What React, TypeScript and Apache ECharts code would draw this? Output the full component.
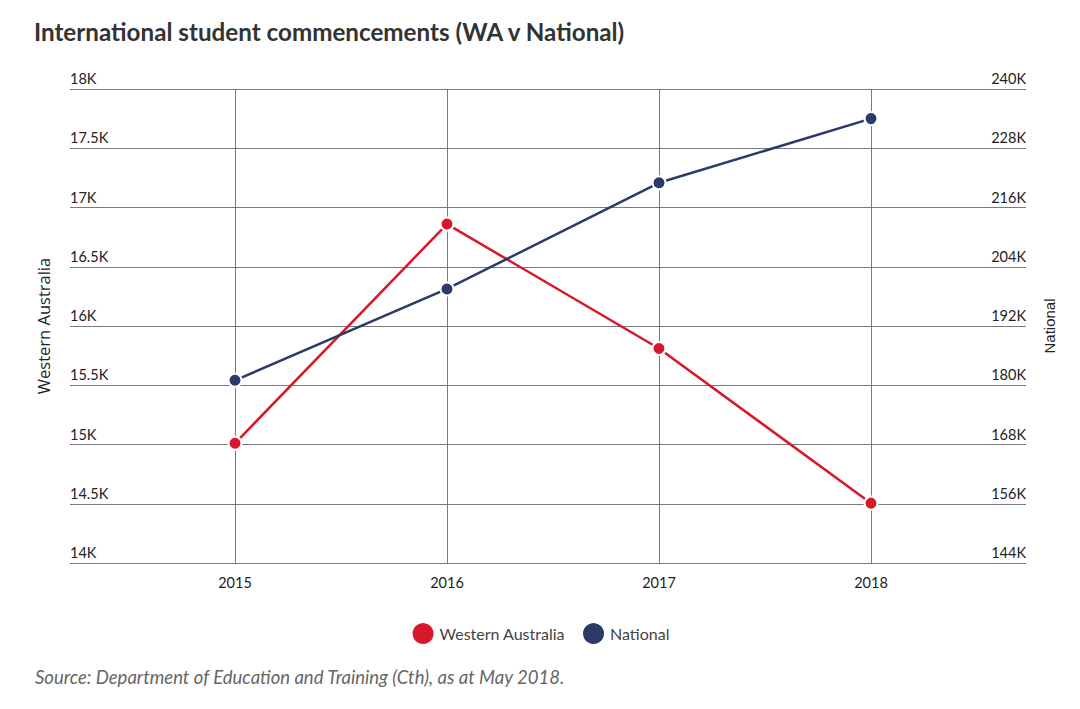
import React, { useEffect, useRef } from "react";
import * as echarts from "echarts";

const years = ["2015", "2016", "2017", "2018"];
const waValues = [15010, 16860, 15810, 14505];
const nationalValues = [181000, 199500, 221000, 234000];
const waTicks = { min: 14000, max: 18000, interval: 500 };
const natTicks = { min: 144000, max: 240000, interval: 12000 };

const RED = "#d7182a";
const NAVY = "#2b3a67";
const FONT = "Lato, 'Open Sans', sans-serif";

const kFmt = (v: number) => `${v / 1000}K`;

export default function App() {
  const ref = useRef<HTMLDivElement>(null);
  useEffect(() => {
    if (!ref.current) return;
    const chart = echarts.init(ref.current, undefined, { renderer: "svg" });
    const top = 89;
    const bottom = 709 - 563;
    chart.setOption({
      animation: false,
      backgroundColor: "#ffffff",
      title: {
        text: "International student commencements (WA v National)",
        left: 29,
        top: 14,
        textStyle: { fontFamily: FONT, fontWeight: "bold", fontSize: 24.2, color: "#333" },
      },
      graphic: [
        {
          type: "text",
          left: 35,
          top: 667,
          style: {
            text: "Source: Department of Education and Training (Cth), as at May 2018.",
            font: `italic 18.5px ${FONT}`,
            fill: "#666",
          },
        },
      ],
      legend: {
        left: "center",
        top: 616,
        icon: "circle",
        itemWidth: 23,
        itemHeight: 23,
        itemGap: 16,
        textStyle: { fontFamily: FONT, fontSize: 16, color: "#444" },
        data: ["Western Australia", "National"],
      },
      grid: [
        { left: 70, right: 54, top, bottom, containLabel: false },
        { left: 235, right: 209, top, bottom, containLabel: false },
      ],
      xAxis: [
        { type: "category", gridIndex: 0, data: years, show: false },
        {
          type: "category",
          gridIndex: 1,
          data: years,
          boundaryGap: false,
          axisLine: { show: false },
          axisTick: { show: false },
          axisLabel: { color: "#222", fontFamily: FONT, fontSize: 14.5, margin: 12, interval: 0 },
          splitLine: { show: true, interval: 0, lineStyle: { color: "#7a7a7a", width: 1 } },
        },
      ],
      yAxis: [
        {
          type: "value",
          gridIndex: 0,
          position: "left",
          ...waTicks,
          name: "Western Australia",
          nameLocation: "middle",
          nameGap: 18,
          nameRotate: 90,
          nameTextStyle: { fontFamily: "'Open Sans', sans-serif", fontSize: 16.5, color: "#222" },
          axisLine: { show: false },
          axisTick: { show: false },
          axisLabel: {
            inside: true,
            margin: 0,
            verticalAlign: "bottom",
            padding: [0, 0, 3, 0],
            color: "#222",
            fontFamily: FONT,
            fontSize: 14.5,
            formatter: kFmt,
          },
          splitLine: { show: true, lineStyle: { color: "#7a7a7a", width: 1 } },
        },
        {
          type: "value",
          gridIndex: 0,
          position: "right",
          ...natTicks,
          name: "National",
          nameLocation: "middle",
          nameGap: 16,
          nameRotate: 90,
          nameTextStyle: { fontFamily: "'Liberation Sans', Arial, sans-serif", fontSize: 15, color: "#222" },
          axisLine: { show: false },
          axisTick: { show: false },
          axisLabel: {
            inside: true,
            margin: 0,
            verticalAlign: "bottom",
            padding: [0, 0, 3, 0],
            color: "#222",
            fontFamily: FONT,
            fontSize: 14.5,
            formatter: kFmt,
          },
          splitLine: { show: false },
        },
        { type: "value", gridIndex: 1, ...waTicks, show: false },
        { type: "value", gridIndex: 1, ...natTicks, show: false },
      ],
      series: [
        {
          name: "Western Australia",
          type: "line",
          xAxisIndex: 1,
          yAxisIndex: 2,
          data: waValues,
          color: RED,
          lineStyle: { color: RED, width: 2.5 },
          symbol: "circle",
          symbolSize: 13,
          itemStyle: { color: RED, borderColor: "#fff", borderWidth: 2 },
          z: 3,
        },
        {
          name: "National",
          type: "line",
          xAxisIndex: 1,
          yAxisIndex: 3,
          data: nationalValues,
          color: NAVY,
          lineStyle: { color: NAVY, width: 2.5 },
          symbol: "circle",
          symbolSize: 13,
          itemStyle: { color: NAVY, borderColor: "#fff", borderWidth: 2 },
          z: 3,
        },
      ],
    });
    return () => chart.dispose();
  }, []);
  return <div ref={ref} style={{ width: 1080, height: 709, position: "absolute", left: 0, top: 0 }} />;
}
